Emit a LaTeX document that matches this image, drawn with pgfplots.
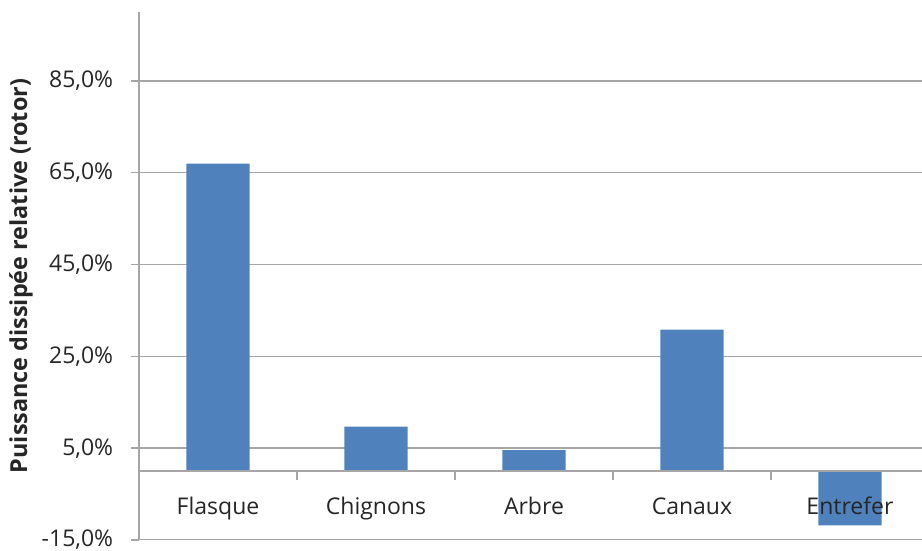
\documentclass[border=0pt]{standalone}
\usepackage{fontspec}
\setmainfont{Open Sans}
\usepackage{pgfplots}
\pgfplotsset{compat=1.18}
\definecolor{barblue}{RGB}{79,129,189}
\definecolor{gridgray}{RGB}{166,166,166}
\begin{document}
\fontsize{23}{27}\selectfont
\begin{tikzpicture}
\useasboundingbox (0,0) rectangle (922pt,551pt);
\begin{axis}[
    axis on top,
    at={(139pt,11pt)}, anchor=south west,
    width=783pt, height=528pt, scale only axis,
    xmin=-0.5, xmax=4.456,
    ymin=-15, ymax=100,
    axis x line=middle, axis y line=left,
    axis line style={-, draw=gridgray, line width=1.5pt},
    ybar, bar width=0.4,
    xtick={0,1,2,3,4},
    xticklabels={Flasque,Chignons,Arbre,Canaux,Entrefer},
    xtick style={draw=none},
    extra x ticks={0.5,1.5,2.5,3.5},
    extra x tick labels={},
    extra x tick style={xtick style={draw=gridgray, line width=1.5pt}, tick align=outside, major tick length=9pt},
    ytick={-15,5,25,45,65,85},
    ytick style={draw=gridgray, line width=1.5pt},
    tick align=outside, major tick length=8pt,
    /pgf/number format/assume math mode=true,
    yticklabel={\pgfmathprintnumber[fixed,fixed zerofill,precision=1,use comma]{\tick}\%},
    yticklabel style={text=black!85, xshift=-10pt},
    xticklabel style={text=black!85, text height=0.75em, text depth=0.25em, yshift=-10pt},
    ylabel={Puissance dissipée relative (rotor)},
    ylabel style={font=\fontsize{23.4}{27}\selectfont\bfseries, text=black!85,
                  at={(axis description cs:-0.1507,0.5)}, anchor=center},
]
% horizontal grid lines, behind the bars
\draw[gridgray, line width=1.5pt] (axis cs:-0.5,-15) -- (axis cs:4.456,-15);
\draw[gridgray, line width=1.5pt] (axis cs:-0.5,5) -- (axis cs:4.456,5);
\draw[gridgray, line width=1.5pt] (axis cs:-0.5,25) -- (axis cs:4.456,25);
\draw[gridgray, line width=1.5pt] (axis cs:-0.5,45) -- (axis cs:4.456,45);
\draw[gridgray, line width=1.5pt] (axis cs:-0.5,65) -- (axis cs:4.456,65);
\draw[gridgray, line width=1.5pt] (axis cs:-0.5,85) -- (axis cs:4.456,85);
\addplot[fill=barblue, draw=none] coordinates {(0,67.0) (1,9.7) (2,4.6) (3,30.8) (4,-11.8)};
\end{axis}
\end{tikzpicture}
\end{document}
